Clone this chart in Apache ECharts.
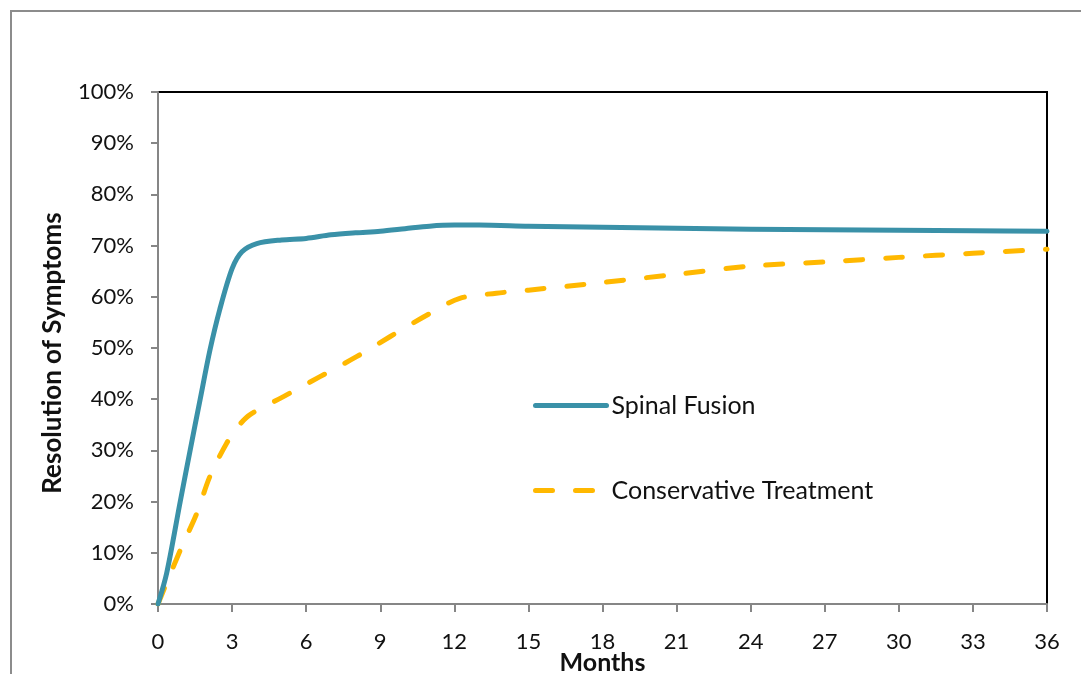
<!DOCTYPE html>
<html>
<head>
<meta charset="utf-8">
<script src="https://cdn.jsdelivr.net/npm/echarts@6/dist/echarts.min.js"></script>
<style>
html,body{margin:0;padding:0;background:#fff;}
#chart{width:1081px;height:674px;}
</style>
</head>
<body>
<div id="chart"></div>
<script>
// Data (months, % resolution)
const xTicks = [0, 3, 6, 9, 12, 15, 18, 21, 24, 27, 30, 33, 36];
const yTicks = [0, 10, 20, 30, 40, 50, 60, 70, 80, 90, 100];
const spinalMonths = [0, 0.35, 0.9, 1.3, 1.7, 2.1, 2.5, 3, 3.4, 4, 5, 6, 7, 8, 9, 10, 11, 12, 13, 15, 18, 21, 24, 27, 30, 33, 36];
const spinalValues = [0, 6, 20, 30, 39.8, 49.5, 57.5, 65.5, 68.8, 70.4, 71.1, 71.4, 72.1, 72.5, 72.8, 73.3, 73.8, 74.0, 74.0, 73.8, 73.6, 73.4, 73.2, 73.1, 73.0, 72.9, 72.8];
const consMonths = [0, 0.9, 1.57, 2.1, 2.78, 3.3, 3.73, 5.08, 6.56, 8.04, 9.39, 10.88, 12.22, 13.7, 15, 18, 21, 24, 27, 30, 33, 36];
const consValues = [0, 10.5, 17.7, 24.9, 31.4, 35, 37, 40.5, 44.4, 48.3, 52.2, 56.4, 59.7, 60.7, 61.3, 62.8, 64.4, 66.0, 66.8, 67.7, 68.5, 69.3];
const seriesNames = ['Spinal Fusion', 'Conservative Treatment'];

const FONT = 'Lato';
const chart = echarts.init(document.getElementById('chart'), null, {renderer: 'canvas'});
const pair = (xs, ys) => xs.map((x, i) => [x, ys[i]]);

chart.setOption({
  animation: false,
  backgroundColor: '#fff',
  graphic: [{
    type: 'rect',
    shape: {x: 11, y: 11, width: 1200, height: 800},
    style: {fill: 'none', stroke: '#8c8c8c', lineWidth: 2},
    silent: true,
    z: -10
  }],
  grid: {
    left: 158, right: 34, top: 92, bottom: 70,
    containLabel: false, outerBoundsMode: 'none',
    show: true, borderColor: '#000', borderWidth: 2, backgroundColor: 'transparent'
  },
  legend: {
    orient: 'vertical',
    left: 533, top: 393, padding: 0,
    itemWidth: 71, itemHeight: 22, itemGap: 60,
    itemStyle: {opacity: 0},
    lineStyle: {width: 5, cap: 'round'},
    textStyle: {fontFamily: FONT, fontSize: 25, color: '#111', lineHeight: 22},
    data: seriesNames
  },
  xAxis: {
    type: 'value', min: 0, max: 36, interval: 3,
    name: 'Months', nameLocation: 'middle', nameGap: 46, nameMoveOverlap: false,
    nameTextStyle: {fontFamily: FONT, fontWeight: 'bold', fontSize: 25, color: '#111'},
    axisLine: {show: true, onZero: false, lineStyle: {color: '#868686', width: 2}},
    axisTick: {show: true, length: 8, lineStyle: {color: '#868686', width: 2}},
    axisLabel: {fontFamily: FONT, fontSize: 22, color: '#111', margin: 27,
      formatter: v => xTicks.includes(v) ? String(v) : ''},
    splitLine: {show: false}
  },
  yAxis: {
    type: 'value', min: 0, max: 100, interval: 10,
    name: 'Resolution of Symptoms', nameLocation: 'middle', nameGap: 92, nameMoveOverlap: false,
    nameTextStyle: {fontFamily: FONT, fontWeight: 'bold', fontSize: 26, color: '#111', padding: [0, 10, 0, 0]},
    axisLine: {show: true, onZero: false, lineStyle: {color: '#868686', width: 2}},
    axisTick: {show: true, length: 7, lineStyle: {color: '#868686', width: 2}},
    axisLabel: {fontFamily: FONT, fontSize: 22, color: '#111', margin: 24,
      formatter: v => yTicks.includes(v) ? v + '%' : ''},
    splitLine: {show: false}
  },
  series: [
    {
      name: seriesNames[0], type: 'line', data: pair(spinalMonths, spinalValues),
      smooth: 0.3, symbol: 'none', showSymbol: false,
      lineStyle: {color: '#3A91A8', width: 5, cap: 'round', join: 'round'},
      itemStyle: {color: '#3A91A8'}, z: 3
    },
    {
      name: seriesNames[1], type: 'line', data: pair(consMonths, consValues),
      smooth: 0.3, symbol: 'none', showSymbol: false,
      lineStyle: {color: '#FFB800', width: 5, type: [17, 23], cap: 'round', join: 'round'},
      itemStyle: {color: '#FFB800'}, z: 2
    }
  ]
});
</script>
</body>
</html>
